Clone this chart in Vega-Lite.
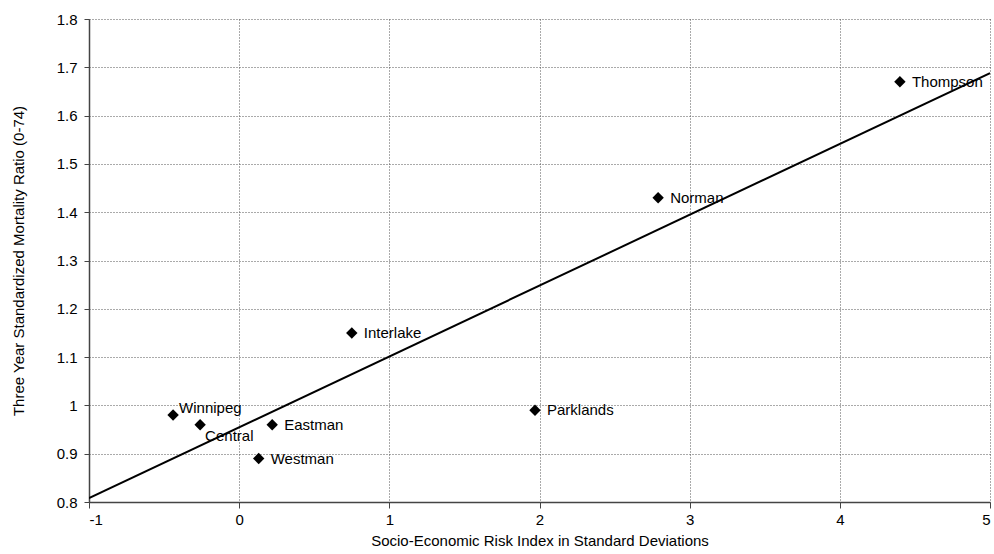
{
  "$schema": "https://vega.github.io/schema/vega-lite/v6.json",
  "width": 901,
  "height": 483,
  "autosize": "none",
  "padding": {"left": 89, "top": 19, "right": 4, "bottom": 52},
  "background": "white",
  "config": {
    "view": {"stroke": null},
    "font": "Liberation Sans",
    "axis": {"labelFont": "Liberation Sans", "titleFont": "Liberation Sans", "titleFontWeight": "normal", "labelColor": "black", "titleColor": "black"}
  },
  "datasets": {
    "pts": [
      {"region": "Winnipeg", "risk": -0.44, "smr": 0.98},
      {"region": "Central", "risk": -0.26, "smr": 0.96},
      {"region": "Eastman", "risk": 0.22, "smr": 0.96},
      {"region": "Westman", "risk": 0.13, "smr": 0.89},
      {"region": "Interlake", "risk": 0.75, "smr": 1.15},
      {"region": "Parklands", "risk": 1.97, "smr": 0.99},
      {"region": "Norman", "risk": 2.79, "smr": 1.43},
      {"region": "Thompson", "risk": 4.4, "smr": 1.67}
    ],
    "fit": [
      {"risk": -1, "smr": 0.808},
      {"risk": 5, "smr": 1.688}
    ]
  },
  "layer": [
    {
      "data": {"name": "fit"},
      "mark": {"type": "line", "color": "black", "strokeWidth": 2, "clip": true},
      "encoding": {
        "x": {"field": "risk", "type": "quantitative",
          "scale": {"domain": [-1, 5], "nice": false, "zero": false},
          "axis": {"title": "Socio-Economic Risk Index in Standard Deviations", "values": [-1, 0, 1, 2, 3, 4, 5],
            "labelExpr": "datum.value < 0 ? '-' + abs(datum.value) : '' + datum.value",
            "grid": true, "gridDash": [1, 2], "gridColor": "#555", "gridWidth": 1,
            "domainColor": "#444", "domainWidth": 1.5, "tickColor": "#444", "tickSize": 6,
            "labelFontSize": 15, "labelPadding": 4, "titleFontSize": 15, "titlePadding": 6}},
        "y": {"field": "smr", "type": "quantitative",
          "scale": {"domain": [0.8, 1.8], "nice": false, "zero": false},
          "axis": {"title": "Three Year Standardized Mortality Ratio (0-74)", "values": [0.8, 0.9, 1, 1.1, 1.2, 1.3, 1.4, 1.5, 1.6, 1.7, 1.8],
            "labelExpr": "datum.value == 1 ? '1' : format(datum.value, '.1f')",
            "grid": true, "gridDash": [1, 2], "gridColor": "#555", "gridWidth": 1,
            "domainColor": "#444", "domainWidth": 1.5, "tickColor": "#444", "tickSize": 5,
            "labelFontSize": 15, "labelPadding": 7, "titleFontSize": 15, "titlePadding": 30}}
      }
    },
    {
      "data": {"name": "pts"},
      "mark": {"type": "point", "shape": "diamond", "filled": true, "color": "black", "size": 130, "opacity": 1},
      "encoding": {
        "x": {"field": "risk", "type": "quantitative"},
        "y": {"field": "smr", "type": "quantitative"}
      }
    },
    {
      "data": {"name": "pts"},
      "transform": [{"filter": "datum.region != 'Winnipeg' && datum.region != 'Central'"}],
      "mark": {"type": "text", "align": "left", "baseline": "middle", "dx": 12, "fontSize": 15, "color": "black"},
      "encoding": {
        "x": {"field": "risk", "type": "quantitative"},
        "y": {"field": "smr", "type": "quantitative"},
        "text": {"field": "region"}
      }
    },
    {
      "data": {"name": "pts"},
      "transform": [{"filter": "datum.region == 'Winnipeg'"}],
      "mark": {"type": "text", "align": "left", "baseline": "middle", "dx": 6, "dy": -7, "fontSize": 15, "color": "black"},
      "encoding": {
        "x": {"field": "risk", "type": "quantitative"},
        "y": {"field": "smr", "type": "quantitative"},
        "text": {"field": "region"}
      }
    },
    {
      "data": {"name": "pts"},
      "transform": [{"filter": "datum.region == 'Central'"}],
      "mark": {"type": "text", "align": "left", "baseline": "middle", "dx": 5, "dy": 11, "fontSize": 15, "color": "black"},
      "encoding": {
        "x": {"field": "risk", "type": "quantitative"},
        "y": {"field": "smr", "type": "quantitative"},
        "text": {"field": "region"}
      }
    }
  ]
}
